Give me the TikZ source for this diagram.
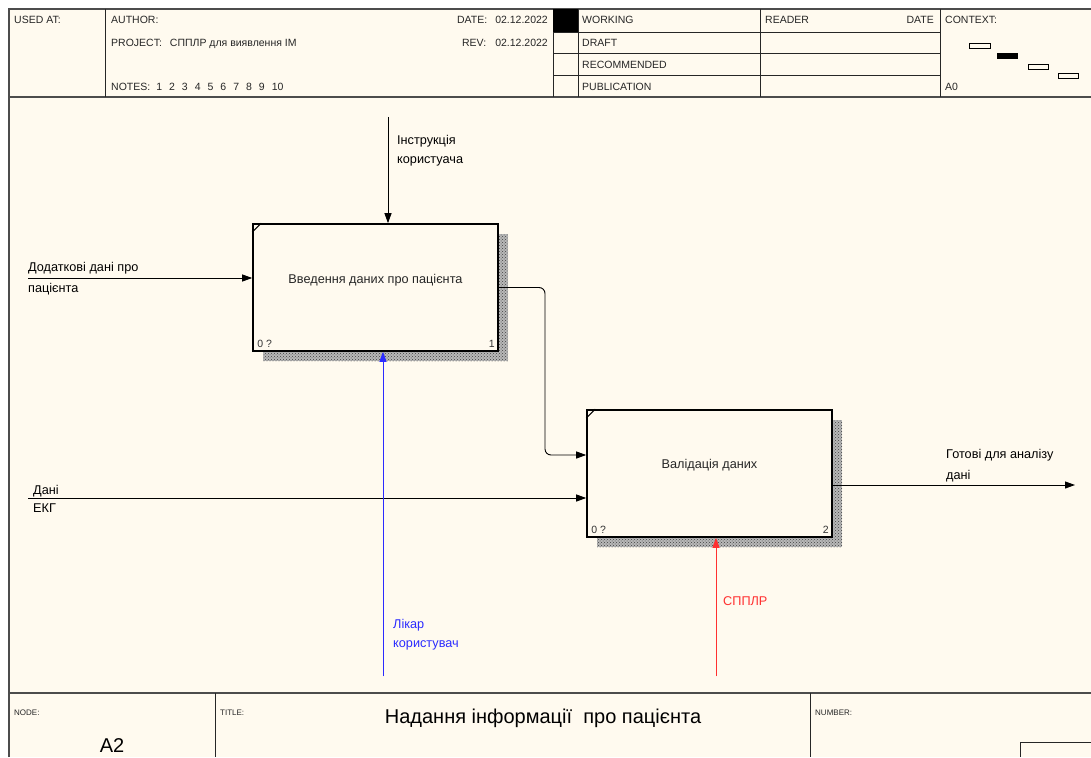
\documentclass[tikz,border=0pt]{standalone}
\usepackage{fontspec}
\setmainfont{Liberation Sans}
\usetikzlibrary{arrows.meta,patterns,shadows}
\definecolor{paper}{HTML}{FFFAEF}
\definecolor{mechblue}{HTML}{2B2BFF}
\definecolor{mechred}{HTML}{FF3030}

\begin{document}
\begin{tikzpicture}[x=1pt, y=-1pt,
    frm/.style={draw=black!70, line width=1.3pt},
    thin/.style={draw=black!85, line width=0.8pt},
    hdr/.style={font=\fontsize{10.5}{12}\selectfont, text=black!85, anchor=base west, inner sep=0pt},
    tiny/.style={font=\fontsize{8}{10}\selectfont, text=black!85, anchor=base west, inner sep=0pt},
    fnbox/.style={draw, line width=1.6pt, fill=paper, minimum width=245pt, minimum height=127pt,
      general shadow={fill=black!28, postaction={pattern=crosshatch dots, pattern color=black!75},
        shadow xshift=10pt, shadow yshift=-10pt}},
    boxtxt/.style={font=\fontsize{12.7}{14}\selectfont, text=black!85, inner sep=0pt},
    corner/.style={font=\fontsize{10.5}{12}\selectfont, text=black!80, inner sep=0pt},
    lbl/.style={font=\fontsize{12.7}{19}\selectfont, align=left, anchor=west, inner sep=0pt},
    arr/.style={-{Triangle[length=10pt,width=7pt]}, line width=0.9pt},
  ]
  \useasboundingbox (0,0) rectangle (1091,757);
  \fill[white] (0,0) rectangle (1091,757);
  \fill[paper] (9,9) rectangle (1091,757);

  % header
  \draw[frm] (9,757) -- (9,9) -- (1091,9);
  \draw[frm] (9,97) -- (1091,97);
  \foreach \xx in {105,553,578,760,940} \draw[thin] (\xx,9) -- (\xx,97);
  \foreach \yy in {32,53,75} \draw[thin] (553,\yy) -- (940,\yy);
  \fill (553,9) rectangle (578,32);
  \node[hdr] (usedat) at (14,24) {USED AT:};
  \node[hdr] (author) at (111,24) {AUTHOR:};
  \node[hdr] (project) at (111,47) {PROJECT:\hspace{8pt}СППЛР для виявлення ІМ};
  \node[hdr] (notes) at (111,91) {NOTES:\hspace{6pt}1\hspace{7pt}2\hspace{7pt}3\hspace{7pt}4\hspace{7pt}5\hspace{7pt}6\hspace{7pt}7\hspace{7pt}8\hspace{7pt}9\hspace{7pt}10};
  \node[hdr, anchor=base east] (date) at (548,24) {DATE:\hspace{8pt}02.12.2022};
  \node[hdr, anchor=base east] (rev) at (548,47) {REV:\hspace{9pt}02.12.2022};
  \node[hdr] (working) at (582,24) {WORKING};
  \node[hdr] (draft) at (582,47) {DRAFT};
  \node[hdr] (recom) at (582,69) {RECOMMENDED};
  \node[hdr] (publ) at (582,91) {PUBLICATION};
  \node[hdr] (reader) at (765,24) {READER};
  \node[hdr, anchor=base east] (rdate) at (934,24) {DATE};
  \node[hdr] (context) at (945,24) {CONTEXT:};
  \node[hdr] (ctxnode) at (945,91) {A0};
  % context boxes
  \draw[line width=0.8pt] (969,43) rectangle (990,48);
  \fill (997,53) rectangle (1018,59);
  \draw[line width=0.8pt] (1028,64) rectangle (1048,69);
  \draw[line width=0.8pt] (1058,73) rectangle (1078,78);

  % activities
  \node[fnbox] (intro) at (375.5,287.5) {};
  \node[fnbox] (valid) at (709.5,473.5) {};
  \node[boxtxt] (introtxt) at ([yshift=7pt]intro.center) {Введення даних про пацієнта};
  \node[boxtxt] (validtxt) at ([yshift=8pt]valid.center) {Валідація даних};
  \foreach \bx/\num in {intro/1,valid/2} {
    \draw[line width=1pt] ([yshift=-9pt]\bx.north west) -- ([xshift=9pt]\bx.north west);
    \node[corner, anchor=south west] at ([shift={(5pt,4pt)}]\bx.south west) {0 ?};
    \node[corner, anchor=south east] at ([shift={(-4pt,4pt)}]\bx.south east) {\num};
  }

  % connectors
  \coordinate (ctlsrc) at (388,117);
  \coordinate (insrc) at (28,278);
  \coordinate (ekgsrc) at (28,498);
  \coordinate (docsrc) at (383,676);
  \coordinate (dsssrc) at (716,676);
  \coordinate (outend) at (1075,485);
  \coordinate (bendtop) at (545,287.5);
  \coordinate (bendbot) at (545,455);

  \draw[arr] (ctlsrc) -- (ctlsrc |- intro.north);
  \draw[arr] (insrc) -- (insrc -| intro.west);
  \draw[arr] (ekgsrc) -- (ekgsrc -| valid.west);
  \draw[arr, draw=mechblue, fill=mechblue] (docsrc) -- (docsrc |- intro.south);
  \draw[arr, draw=mechred, fill=mechred] (dsssrc) -- (dsssrc |- valid.south);
  \draw[arr] (outend -| valid.east) -- (outend);
  \draw[arr, rounded corners=6pt] (intro.east) -- (bendtop) -- (bendbot) -- (bendbot -| valid.west);

  % arrow labels
  \node[lbl] (ctllbl) at (397,150.5) {Інструкція\\користуача};
  \node[lbl] (inlbl) at (28,278.5) {Додаткові дані про\\[2pt]пацієнта};
  \node[lbl] (ekglbl) at (33,499) {Дані\\[-1pt]ЕКГ};
  \node[lbl, text=mechblue] (doclbl) at (393,634.5) {Лікар\\користувач};
  \node[lbl, text=mechred] (dsslbl) at (723,601) {СППЛР};
  \node[lbl] (outlbl) at (946,465.5) {Готові для аналізу\\[2pt]дані};

  % footer
  \draw[frm] (9,693) -- (1091,693);
  \draw[thin] (215,693) -- (215,757);
  \draw[thin] (810,693) -- (810,757);
  \draw[thin] (1020,757) -- (1020,742) -- (1091,742);
  \node[tiny] (nodelbl) at (14,715) {NODE:};
  \node[tiny] (titlelbl) at (220,715) {TITLE:};
  \node[tiny] (numlbl) at (815,715) {NUMBER:};
  \node[font=\fontsize{20}{22}\selectfont, inner sep=0pt] (nodeno) at (112,746) {A2};
  \node[font=\fontsize{20}{22}\selectfont, inner sep=0pt] (title) at (543,718) {Надання інформації\ \ про пацієнта};
\end{tikzpicture}
\end{document}
